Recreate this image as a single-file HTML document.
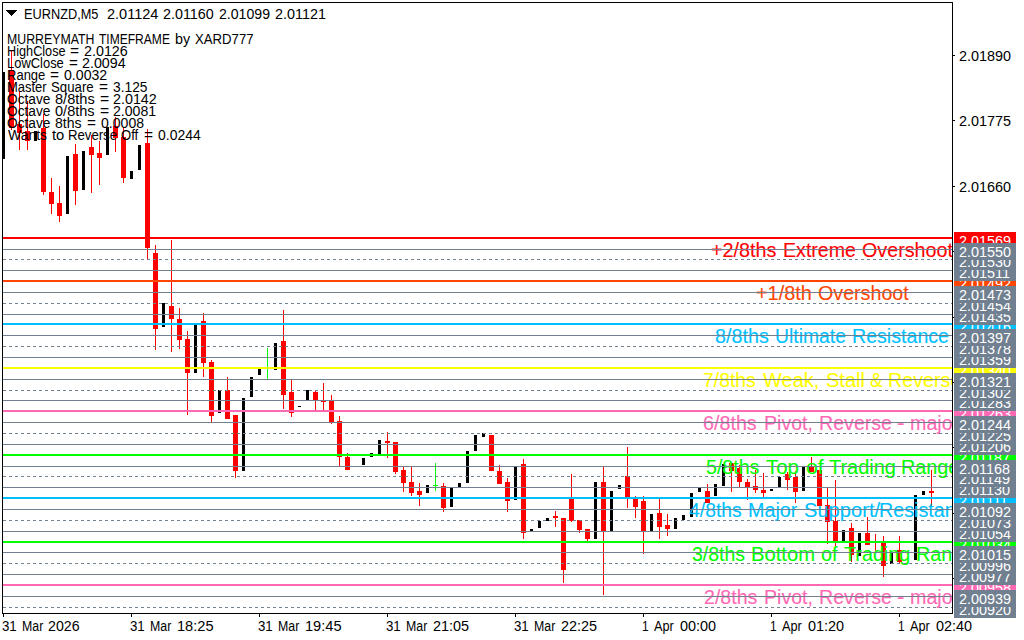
<!DOCTYPE html>
<html><head><meta charset="utf-8"><title>EURNZD,M5</title>
<style>
html,body{margin:0;padding:0;background:#fff;}
body{width:1024px;height:640px;overflow:hidden;position:relative;font-family:"Liberation Sans",sans-serif;color:#000;}
svg{position:absolute;left:0;top:0;}
.lvwrap{position:absolute;left:3px;top:3px;width:949px;height:610px;overflow:hidden;}
.lv{position:absolute;font-size:20px;line-height:23px;white-space:pre;transform-origin:0 0;-webkit-text-stroke:0.12px currentColor;}
.pl{position:absolute;left:954px;width:62px;height:17px;color:#fff;font-size:14px;line-height:17px;white-space:pre;overflow:hidden;}
.pl span{position:absolute;left:4.9px;top:1px;transform:scaleX(1.028);transform-origin:0 0;}
.w{position:absolute;font-size:14px;line-height:17px;white-space:pre;transform-origin:0 0;}
</style></head><body>
<svg width="1024" height="640" viewBox="0 0 1024 640" shape-rendering="crispEdges">
<rect x="2" y="72" width="3" height="87" fill="#000"/>
<rect x="11" y="51" width="1" height="79" fill="#f00"/>
<rect x="9" y="70" width="5" height="58" fill="#f00"/>
<rect x="19" y="92" width="1" height="58" fill="#f00"/>
<rect x="17" y="124" width="5" height="9" fill="#f00"/>
<rect x="27" y="101" width="1" height="49" fill="#f00"/>
<rect x="25" y="131" width="5" height="10" fill="#f00"/>
<rect x="34" y="131" width="3" height="10" fill="#000"/>
<rect x="43" y="114" width="1" height="81" fill="#f00"/>
<rect x="41" y="128" width="5" height="64" fill="#f00"/>
<rect x="51" y="178" width="1" height="36" fill="#f00"/>
<rect x="49" y="192" width="5" height="12" fill="#f00"/>
<rect x="59" y="186" width="1" height="36" fill="#f00"/>
<rect x="57" y="203" width="5" height="13" fill="#f00"/>
<rect x="66" y="156" width="3" height="58" fill="#000"/>
<rect x="75" y="144" width="1" height="61" fill="#f00"/>
<rect x="73" y="154" width="5" height="37" fill="#f00"/>
<rect x="82" y="151" width="3" height="39" fill="#000"/>
<rect x="91" y="135" width="1" height="58" fill="#f00"/>
<rect x="89" y="147" width="5" height="8" fill="#f00"/>
<rect x="99" y="141" width="1" height="44" fill="#f00"/>
<rect x="97" y="153" width="5" height="5" fill="#f00"/>
<rect x="106" y="127" width="3" height="28" fill="#000"/>
<rect x="115" y="117" width="1" height="35" fill="#f00"/>
<rect x="113" y="126" width="5" height="12" fill="#f00"/>
<rect x="123" y="128" width="1" height="55" fill="#f00"/>
<rect x="121" y="137" width="5" height="41" fill="#f00"/>
<rect x="130" y="171" width="3" height="8" fill="#000"/>
<rect x="138" y="145" width="3" height="25" fill="#000"/>
<rect x="147" y="129" width="1" height="130" fill="#f00"/>
<rect x="145" y="143" width="5" height="105" fill="#f00"/>
<rect x="155" y="245" width="1" height="105" fill="#f00"/>
<rect x="153" y="253" width="5" height="76" fill="#f00"/>
<rect x="162" y="303" width="3" height="24" fill="#000"/>
<rect x="171" y="240" width="1" height="112" fill="#f00"/>
<rect x="169" y="306" width="5" height="13" fill="#f00"/>
<rect x="179" y="308" width="1" height="41" fill="#f00"/>
<rect x="177" y="319" width="5" height="21" fill="#f00"/>
<rect x="187" y="331" width="1" height="84" fill="#f00"/>
<rect x="185" y="339" width="5" height="34" fill="#f00"/>
<rect x="194" y="323" width="3" height="50" fill="#000"/>
<rect x="203" y="313" width="1" height="64" fill="#f00"/>
<rect x="201" y="321" width="5" height="42" fill="#f00"/>
<rect x="211" y="360" width="1" height="62" fill="#f00"/>
<rect x="209" y="362" width="5" height="54" fill="#f00"/>
<rect x="218" y="390" width="3" height="23" fill="#000"/>
<rect x="227" y="377" width="1" height="42" fill="#f00"/>
<rect x="225" y="390" width="5" height="29" fill="#f00"/>
<rect x="235" y="415" width="1" height="63" fill="#f00"/>
<rect x="233" y="415" width="5" height="56" fill="#f00"/>
<rect x="242" y="398" width="3" height="73" fill="#000"/>
<rect x="250" y="377" width="3" height="20" fill="#000"/>
<rect x="258" y="369" width="3" height="6" fill="#000"/>
<rect x="267" y="348" width="1" height="31" fill="#0f0"/>
<rect x="274" y="343" width="3" height="27" fill="#000"/>
<rect x="283" y="310" width="1" height="99" fill="#f00"/>
<rect x="281" y="341" width="5" height="54" fill="#f00"/>
<rect x="291" y="380" width="1" height="37" fill="#f00"/>
<rect x="289" y="392" width="5" height="21" fill="#f00"/>
<rect x="298" y="406" width="3" height="1" fill="#000"/>
<rect x="306" y="390" width="3" height="10" fill="#000"/>
<rect x="315" y="390" width="1" height="20" fill="#f00"/>
<rect x="313" y="392" width="5" height="8" fill="#f00"/>
<rect x="323" y="383" width="1" height="27" fill="#f00"/>
<rect x="321" y="401" width="5" height="1" fill="#f00"/>
<rect x="331" y="395" width="1" height="29" fill="#f00"/>
<rect x="329" y="401" width="5" height="21" fill="#f00"/>
<rect x="339" y="416" width="1" height="50" fill="#f00"/>
<rect x="337" y="421" width="5" height="36" fill="#f00"/>
<rect x="347" y="453" width="1" height="17" fill="#f00"/>
<rect x="345" y="457" width="5" height="13" fill="#f00"/>
<rect x="362" y="458" width="3" height="7" fill="#000"/>
<rect x="370" y="453" width="3" height="4" fill="#000"/>
<rect x="378" y="440" width="3" height="14" fill="#000"/>
<rect x="387" y="432" width="1" height="26" fill="#f00"/>
<rect x="385" y="441" width="5" height="2" fill="#f00"/>
<rect x="395" y="442" width="1" height="32" fill="#f00"/>
<rect x="393" y="442" width="5" height="30" fill="#f00"/>
<rect x="403" y="467" width="1" height="25" fill="#f00"/>
<rect x="401" y="470" width="5" height="13" fill="#f00"/>
<rect x="411" y="467" width="1" height="29" fill="#f00"/>
<rect x="409" y="482" width="5" height="11" fill="#f00"/>
<rect x="419" y="483" width="1" height="23" fill="#f00"/>
<rect x="417" y="491" width="5" height="4" fill="#f00"/>
<rect x="426" y="485" width="3" height="8" fill="#000"/>
<rect x="435" y="463" width="1" height="28" fill="#0f0"/>
<rect x="433" y="485" width="5" height="1" fill="#0f0"/>
<rect x="443" y="483" width="1" height="29" fill="#f00"/>
<rect x="441" y="486" width="5" height="22" fill="#f00"/>
<rect x="450" y="488" width="3" height="19" fill="#000"/>
<rect x="458" y="483" width="3" height="4" fill="#000"/>
<rect x="466" y="451" width="3" height="32" fill="#000"/>
<rect x="474" y="435" width="3" height="16" fill="#000"/>
<rect x="482" y="433" width="3" height="4" fill="#000"/>
<rect x="491" y="435" width="1" height="36" fill="#f00"/>
<rect x="489" y="435" width="5" height="36" fill="#f00"/>
<rect x="499" y="465" width="1" height="19" fill="#f00"/>
<rect x="497" y="471" width="5" height="13" fill="#f00"/>
<rect x="507" y="478" width="1" height="34" fill="#f00"/>
<rect x="505" y="482" width="5" height="19" fill="#f00"/>
<rect x="514" y="467" width="3" height="33" fill="#000"/>
<rect x="523" y="459" width="1" height="80" fill="#f00"/>
<rect x="521" y="464" width="5" height="69" fill="#f00"/>
<rect x="530" y="529" width="3" height="2" fill="#000"/>
<rect x="538" y="521" width="3" height="7" fill="#000"/>
<rect x="546" y="518" width="3" height="3" fill="#000"/>
<rect x="555" y="511" width="1" height="16" fill="#f00"/>
<rect x="553" y="516" width="5" height="2" fill="#f00"/>
<rect x="563" y="518" width="1" height="65" fill="#f00"/>
<rect x="561" y="518" width="5" height="52" fill="#f00"/>
<rect x="571" y="474" width="1" height="48" fill="#f00"/>
<rect x="569" y="499" width="5" height="22" fill="#f00"/>
<rect x="579" y="520" width="1" height="13" fill="#f00"/>
<rect x="577" y="520" width="5" height="10" fill="#f00"/>
<rect x="587" y="529" width="1" height="12" fill="#f00"/>
<rect x="585" y="529" width="5" height="10" fill="#f00"/>
<rect x="594" y="482" width="3" height="57" fill="#000"/>
<rect x="603" y="467" width="1" height="128" fill="#f00"/>
<rect x="601" y="482" width="5" height="49" fill="#f00"/>
<rect x="610" y="491" width="3" height="40" fill="#000"/>
<rect x="618" y="485" width="3" height="4" fill="#000"/>
<rect x="627" y="447" width="1" height="61" fill="#f00"/>
<rect x="625" y="476" width="5" height="21" fill="#f00"/>
<rect x="635" y="496" width="1" height="22" fill="#f00"/>
<rect x="633" y="499" width="5" height="8" fill="#f00"/>
<rect x="643" y="496" width="1" height="58" fill="#f00"/>
<rect x="641" y="501" width="5" height="30" fill="#f00"/>
<rect x="650" y="514" width="3" height="17" fill="#000"/>
<rect x="659" y="499" width="1" height="40" fill="#f00"/>
<rect x="657" y="513" width="5" height="14" fill="#f00"/>
<rect x="667" y="514" width="1" height="22" fill="#f00"/>
<rect x="665" y="525" width="5" height="4" fill="#f00"/>
<rect x="674" y="518" width="3" height="11" fill="#000"/>
<rect x="682" y="515" width="3" height="5" fill="#000"/>
<rect x="690" y="493" width="3" height="24" fill="#000"/>
<rect x="698" y="488" width="3" height="4" fill="#000"/>
<rect x="707" y="484" width="1" height="19" fill="#f00"/>
<rect x="705" y="491" width="5" height="12" fill="#f00"/>
<rect x="714" y="484" width="3" height="12" fill="#000"/>
<rect x="722" y="464" width="3" height="22" fill="#000"/>
<rect x="731" y="463" width="1" height="29" fill="#f00"/>
<rect x="729" y="463" width="5" height="8" fill="#f00"/>
<rect x="739" y="465" width="1" height="22" fill="#f00"/>
<rect x="737" y="468" width="5" height="14" fill="#f00"/>
<rect x="747" y="479" width="1" height="21" fill="#f00"/>
<rect x="745" y="482" width="5" height="5" fill="#f00"/>
<rect x="755" y="470" width="1" height="23" fill="#f00"/>
<rect x="753" y="486" width="5" height="4" fill="#f00"/>
<rect x="763" y="473" width="1" height="24" fill="#f00"/>
<rect x="761" y="490" width="5" height="3" fill="#f00"/>
<rect x="770" y="489" width="3" height="2" fill="#000"/>
<rect x="778" y="477" width="3" height="10" fill="#000"/>
<rect x="787" y="472" width="1" height="18" fill="#f00"/>
<rect x="785" y="474" width="5" height="6" fill="#f00"/>
<rect x="795" y="471" width="1" height="32" fill="#f00"/>
<rect x="793" y="477" width="5" height="15" fill="#f00"/>
<rect x="802" y="467" width="3" height="24" fill="#000"/>
<rect x="811" y="457" width="1" height="15" fill="#f00"/>
<rect x="809" y="467" width="5" height="5" fill="#f00"/>
<rect x="819" y="470" width="1" height="36" fill="#f00"/>
<rect x="817" y="470" width="5" height="36" fill="#f00"/>
<rect x="827" y="488" width="1" height="56" fill="#f00"/>
<rect x="825" y="505" width="5" height="17" fill="#f00"/>
<rect x="835" y="480" width="1" height="66" fill="#f00"/>
<rect x="833" y="521" width="5" height="20" fill="#f00"/>
<rect x="842" y="530" width="3" height="11" fill="#000"/>
<rect x="851" y="523" width="1" height="39" fill="#f00"/>
<rect x="849" y="528" width="5" height="27" fill="#f00"/>
<rect x="858" y="533" width="3" height="23" fill="#000"/>
<rect x="867" y="517" width="1" height="28" fill="#f00"/>
<rect x="865" y="533" width="5" height="12" fill="#f00"/>
<rect x="875" y="534" width="1" height="18" fill="#f00"/>
<rect x="883" y="536" width="1" height="41" fill="#f00"/>
<rect x="881" y="543" width="5" height="23" fill="#f00"/>
<rect x="890" y="552" width="3" height="12" fill="#000"/>
<rect x="899" y="536" width="1" height="27" fill="#f00"/>
<rect x="897" y="550" width="5" height="12" fill="#f00"/>
<rect x="914" y="495" width="3" height="65" fill="#000"/>
<rect x="922" y="491" width="3" height="4" fill="#000"/>
<rect x="931" y="470" width="1" height="36" fill="#f00"/>
<rect x="929" y="491" width="5" height="2" fill="#f00"/>
</svg>
<div class="lvwrap">
<span class="lv" style="left:708.21px;top:236.3px;color:#ff0000;transform:scaleX(0.9880)">+2/8ths</span>
<span class="lv" style="left:779.81px;top:236.3px;color:#ff0000;transform:scaleX(0.9806)">Extreme</span>
<span class="lv" style="left:858.91px;top:236.3px;color:#ff0000;transform:scaleX(0.9850)">Overshoot</span>
<span class="lv" style="left:753.31px;top:279.3px;color:#ff4500;transform:scaleX(0.9949)">+1/8th</span>
<span class="lv" style="left:815.02px;top:279.3px;color:#ff4500;transform:scaleX(0.9833)">Overshoot</span>
<span class="lv" style="left:712.24px;top:322.3px;color:#00bfff;transform:scaleX(0.9872)">8/8ths</span>
<span class="lv" style="left:772.15px;top:322.3px;color:#00bfff;transform:scaleX(0.9669)">Ultimate</span>
<span class="lv" style="left:849.21px;top:322.3px;color:#00bfff;transform:scaleX(0.9805)">Resistance</span>
<span class="lv" style="left:700.43px;top:366.3px;color:#ffff00;transform:scaleX(0.9687)">7/8ths</span>
<span class="lv" style="left:760.17px;top:366.3px;color:#ffff00;transform:scaleX(1.0005)">Weak,</span>
<span class="lv" style="left:822.50px;top:366.3px;color:#ffff00;transform:scaleX(1.0020)">Stall</span>
<span class="lv" style="left:866.99px;top:366.3px;color:#ffff00;transform:scaleX(0.9429)">&amp;</span>
<span class="lv" style="left:885.15px;top:366.3px;color:#ffff00;transform:scaleX(0.9850)">Reverse</span>
<span class="lv" style="left:700.41px;top:409.3px;color:#ff69b4;transform:scaleX(0.9858)">6/8ths</span>
<span class="lv" style="left:760.81px;top:409.3px;color:#ff69b4;transform:scaleX(0.9780)">Pivot,</span>
<span class="lv" style="left:815.61px;top:409.3px;color:#ff69b4;transform:scaleX(0.9806)">Reverse</span>
<span class="lv" style="left:894.31px;top:409.3px;color:#ff69b4;transform:scaleX(1.1282)">-</span>
<span class="lv" style="left:907.45px;top:409.3px;color:#ff69b4;transform:scaleX(0.9850)">major</span>
<span class="lv" style="left:703.04px;top:453.3px;color:#00ff00;transform:scaleX(0.9806)">5/8ths</span>
<span class="lv" style="left:762.74px;top:453.3px;color:#00ff00;transform:scaleX(1.0219)">Top</span>
<span class="lv" style="left:802.57px;top:453.3px;color:#00ff00;transform:scaleX(1.0646)">of</span>
<span class="lv" style="left:825.50px;top:453.3px;color:#00ff00;transform:scaleX(0.9977)">Trading</span>
<span class="lv" style="left:897.69px;top:453.3px;color:#00ff00;transform:scaleX(0.9900)">Range</span>
<span class="lv" style="left:685.92px;top:496.3px;color:#00bfff;transform:scaleX(0.9671)">4/8ths</span>
<span class="lv" style="left:744.90px;top:496.3px;color:#00bfff;transform:scaleX(0.9875)">Major</span>
<span class="lv" style="left:801.19px;top:496.3px;color:#00bfff;transform:scaleX(1.0064)">Support/</span>
<span class="lv" style="left:875.90px;top:496.3px;color:#00bfff;transform:scaleX(0.9850)">Resistance</span>
<span class="lv" style="left:689.07px;top:540.3px;color:#00ff00;transform:scaleX(0.9736)">3/8ths</span>
<span class="lv" style="left:748.46px;top:540.3px;color:#00ff00;transform:scaleX(1.0104)">Bottom</span>
<span class="lv" style="left:817.98px;top:540.3px;color:#00ff00;transform:scaleX(0.9921)">of</span>
<span class="lv" style="left:840.91px;top:540.3px;color:#00ff00;transform:scaleX(0.9870)">Trading</span>
<span class="lv" style="left:912.89px;top:540.3px;color:#00ff00;transform:scaleX(0.9900)">Range</span>
<span class="lv" style="left:701.02px;top:583.3px;color:#ff69b4;transform:scaleX(0.9782)">2/8ths</span>
<span class="lv" style="left:760.81px;top:583.3px;color:#ff69b4;transform:scaleX(0.9780)">Pivot,</span>
<span class="lv" style="left:815.61px;top:583.3px;color:#ff69b4;transform:scaleX(0.9806)">Reverse</span>
<span class="lv" style="left:894.31px;top:583.3px;color:#ff69b4;transform:scaleX(1.1282)">-</span>
<span class="lv" style="left:907.45px;top:583.3px;color:#ff69b4;transform:scaleX(0.9850)">major</span>
</div>
<svg width="1024" height="640" viewBox="0 0 1024 640" shape-rendering="crispEdges">
<rect x="3" y="237" width="949" height="2" fill="#ff0000"/>
<rect x="3" y="249" width="949" height="1" fill="#708090"/>
<line x1="3" x2="952" y1="259.5" y2="259.5" stroke="#708090" stroke-width="1" stroke-dasharray="3 3"/>
<rect x="3" y="270" width="949" height="1" fill="#708090"/>
<rect x="3" y="280" width="949" height="2" fill="#ff4500"/>
<rect x="3" y="292" width="949" height="1" fill="#708090"/>
<line x1="3" x2="952" y1="303.5" y2="303.5" stroke="#708090" stroke-width="1" stroke-dasharray="3 3"/>
<rect x="3" y="314" width="949" height="1" fill="#708090"/>
<rect x="3" y="323" width="949" height="2" fill="#00bfff"/>
<rect x="3" y="335" width="949" height="1" fill="#708090"/>
<line x1="3" x2="952" y1="346.5" y2="346.5" stroke="#708090" stroke-width="1" stroke-dasharray="3 3"/>
<rect x="3" y="357" width="949" height="1" fill="#708090"/>
<rect x="3" y="367" width="949" height="2" fill="#ffff00"/>
<rect x="3" y="379" width="949" height="1" fill="#708090"/>
<line x1="3" x2="952" y1="390.5" y2="390.5" stroke="#708090" stroke-width="1" stroke-dasharray="3 3"/>
<rect x="3" y="400" width="949" height="1" fill="#708090"/>
<rect x="3" y="410" width="949" height="2" fill="#ff69b4"/>
<rect x="3" y="422" width="949" height="1" fill="#708090"/>
<line x1="3" x2="952" y1="433.5" y2="433.5" stroke="#708090" stroke-width="1" stroke-dasharray="3 3"/>
<rect x="3" y="444" width="949" height="1" fill="#708090"/>
<rect x="3" y="454" width="949" height="2" fill="#00ff00"/>
<rect x="3" y="466" width="949" height="1" fill="#708090"/>
<line x1="3" x2="952" y1="476.5" y2="476.5" stroke="#708090" stroke-width="1" stroke-dasharray="3 3"/>
<rect x="3" y="487" width="949" height="1" fill="#708090"/>
<rect x="3" y="497" width="949" height="2" fill="#00bfff"/>
<rect x="3" y="509" width="949" height="1" fill="#708090"/>
<line x1="3" x2="952" y1="520.5" y2="520.5" stroke="#708090" stroke-width="1" stroke-dasharray="3 3"/>
<rect x="3" y="531" width="949" height="1" fill="#708090"/>
<rect x="3" y="541" width="949" height="2" fill="#00ff00"/>
<rect x="3" y="552" width="949" height="1" fill="#708090"/>
<line x1="3" x2="952" y1="563.5" y2="563.5" stroke="#708090" stroke-width="1" stroke-dasharray="3 3"/>
<rect x="3" y="574" width="949" height="1" fill="#708090"/>
<rect x="3" y="584" width="949" height="2" fill="#ff69b4"/>
<rect x="3" y="596" width="949" height="1" fill="#708090"/>
<line x1="3" x2="952" y1="607.5" y2="607.5" stroke="#708090" stroke-width="1" stroke-dasharray="3 3"/>
<rect x="2" y="2" width="951" height="1" fill="#000"/><rect x="2" y="2" width="1" height="612" fill="#000"/><rect x="952" y="2" width="1" height="612" fill="#000"/><rect x="2" y="613" width="951" height="1" fill="#000"/>
<rect x="953" y="55" width="2" height="1" fill="#000"/>
<rect x="953" y="120" width="2" height="1" fill="#000"/>
<rect x="953" y="186" width="2" height="1" fill="#000"/>
<rect x="953" y="251" width="2" height="1" fill="#000"/>
<rect x="953" y="317" width="2" height="1" fill="#000"/>
<rect x="953" y="382" width="2" height="1" fill="#000"/>
<rect x="953" y="447" width="2" height="1" fill="#000"/>
<rect x="953" y="513" width="2" height="1" fill="#000"/>
<rect x="953" y="578" width="2" height="1" fill="#000"/>
<rect x="3" y="614" width="1" height="3" fill="#000"/>
<rect x="131" y="614" width="1" height="3" fill="#000"/>
<rect x="259" y="614" width="1" height="3" fill="#000"/>
<rect x="387" y="614" width="1" height="3" fill="#000"/>
<rect x="515" y="614" width="1" height="3" fill="#000"/>
<rect x="643" y="614" width="1" height="3" fill="#000"/>
<rect x="771" y="614" width="1" height="3" fill="#000"/>
<rect x="899" y="614" width="1" height="3" fill="#000"/>
<rect x="6" y="10" width="11" height="1" fill="#000"/><rect x="7" y="11" width="9" height="1" fill="#000"/><rect x="8" y="12" width="7" height="1" fill="#000"/><rect x="9" y="13" width="5" height="1" fill="#000"/><rect x="10" y="14" width="3" height="1" fill="#000"/><rect x="11" y="15" width="1" height="1" fill="#000"/>
</svg>
<span class="w" style="left:24.02px;top:6px;transform:scaleX(0.9119)">EURNZD,M5</span>
<span class="w" style="left:107.02px;top:6px;transform:scaleX(1.0377)">2.01124</span>
<span class="w" style="left:163.13px;top:6px;transform:scaleX(1.0228)">2.01160</span>
<span class="w" style="left:219.24px;top:6px;transform:scaleX(1.0076)">2.01099</span>
<span class="w" style="left:275.33px;top:6px;transform:scaleX(1.0265)">2.01121</span>
<span class="w" style="left:7.06px;top:31px;transform:scaleX(0.8809)">MURREYMATH</span>
<span class="w" style="left:99.48px;top:31px;transform:scaleX(0.8601)">TIMEFRAME</span>
<span class="w" style="left:175.40px;top:31px;transform:scaleX(1.0234)">by</span>
<span class="w" style="left:194.70px;top:31px;transform:scaleX(0.9399)">XARD777</span>
<span class="w" style="left:7.03px;top:43px;transform:scaleX(0.9074)">HighClose</span>
<span class="w" style="left:70.21px;top:43px;transform:scaleX(1.1055)">=</span>
<span class="w" style="left:84.28px;top:43px;transform:scaleX(1.0229)">2.0126</span>
<span class="w" style="left:7.01px;top:55px;transform:scaleX(0.9238)">LowClose</span>
<span class="w" style="left:68.62px;top:55px;transform:scaleX(1.0836)">=</span>
<span class="w" style="left:82.29px;top:55px;transform:scaleX(1.0198)">2.0094</span>
<span class="w" style="left:7.00px;top:67px;transform:scaleX(0.9291)">Range</span>
<span class="w" style="left:50.21px;top:67px;transform:scaleX(1.1055)">=</span>
<span class="w" style="left:64.40px;top:67px;transform:scaleX(1.0090)">0.0032</span>
<span class="w" style="left:7.01px;top:79px;transform:scaleX(0.9269)">Master</span>
<span class="w" style="left:51.21px;top:79px;transform:scaleX(0.9447)">Square</span>
<span class="w" style="left:98.61px;top:79px;transform:scaleX(1.1055)">=</span>
<span class="w" style="left:112.81px;top:79px;transform:scaleX(0.9838)">3.125</span>
<span class="w" style="left:7.19px;top:91px;transform:scaleX(0.9809)">Octave</span>
<span class="w" style="left:55.25px;top:91px;transform:scaleX(1.0432)">8/8ths</span>
<span class="w" style="left:99.60px;top:91px;transform:scaleX(1.1200)">=</span>
<span class="w" style="left:113.03px;top:91px;transform:scaleX(1.0224)">2.0142</span>
<span class="w" style="left:7.19px;top:103px;transform:scaleX(0.9809)">Octave</span>
<span class="w" style="left:55.38px;top:103px;transform:scaleX(1.0397)">0/8ths</span>
<span class="w" style="left:99.60px;top:103px;transform:scaleX(1.1200)">=</span>
<span class="w" style="left:113.04px;top:103px;transform:scaleX(1.0079)">2.0081</span>
<span class="w" style="left:7.19px;top:115px;transform:scaleX(0.9809)">Octave</span>
<span class="w" style="left:55.27px;top:115px;transform:scaleX(1.0049)">8ths</span>
<span class="w" style="left:86.51px;top:115px;transform:scaleX(1.0982)">=</span>
<span class="w" style="left:100.55px;top:115px;transform:scaleX(1.0048)">0.0008</span>
<span class="w" style="left:7.93px;top:127px;transform:scaleX(0.9961)">Wants</span>
<span class="w" style="left:51.54px;top:127px;transform:scaleX(1.0529)">to</span>
<span class="w" style="left:67.99px;top:127px;transform:scaleX(0.9400)">Reverse</span>
<span class="w" style="left:121.32px;top:127px;transform:scaleX(0.9343)">Off</span>
<span class="w" style="left:143.71px;top:127px;transform:scaleX(1.1055)">=</span>
<span class="w" style="left:157.70px;top:127px;transform:scaleX(0.9958)">0.0244</span>
<span class="w" style="left:2.33px;top:618px;transform:scaleX(0.9461)">31</span>
<span class="w" style="left:22.21px;top:618px;transform:scaleX(0.8813)">Mar</span>
<span class="w" style="left:48.04px;top:618px;transform:scaleX(1.0118)">2026</span>
<span class="w" style="left:130.33px;top:618px;transform:scaleX(0.9461)">31</span>
<span class="w" style="left:150.21px;top:618px;transform:scaleX(0.8813)">Mar</span>
<span class="w" style="left:176.53px;top:618px;transform:scaleX(1.0427)">18:25</span>
<span class="w" style="left:258.33px;top:618px;transform:scaleX(0.9461)">31</span>
<span class="w" style="left:278.21px;top:618px;transform:scaleX(0.8813)">Mar</span>
<span class="w" style="left:304.53px;top:618px;transform:scaleX(1.0427)">19:45</span>
<span class="w" style="left:386.33px;top:618px;transform:scaleX(0.9461)">31</span>
<span class="w" style="left:406.21px;top:618px;transform:scaleX(0.8813)">Mar</span>
<span class="w" style="left:432.93px;top:618px;transform:scaleX(1.0311)">21:05</span>
<span class="w" style="left:514.33px;top:618px;transform:scaleX(0.9461)">31</span>
<span class="w" style="left:534.21px;top:618px;transform:scaleX(0.8813)">Mar</span>
<span class="w" style="left:560.93px;top:618px;transform:scaleX(1.0311)">22:25</span>
<span class="w" style="left:642.44px;top:618px;transform:scaleX(0.8500)">1</span>
<span class="w" style="left:654.30px;top:618px;transform:scaleX(0.9116)">Apr</span>
<span class="w" style="left:679.53px;top:618px;transform:scaleX(1.0309)">00:00</span>
<span class="w" style="left:770.44px;top:618px;transform:scaleX(0.8500)">1</span>
<span class="w" style="left:782.30px;top:618px;transform:scaleX(0.9116)">Apr</span>
<span class="w" style="left:807.53px;top:618px;transform:scaleX(1.0309)">01:20</span>
<span class="w" style="left:898.44px;top:618px;transform:scaleX(0.8500)">1</span>
<span class="w" style="left:910.30px;top:618px;transform:scaleX(0.9116)">Apr</span>
<span class="w" style="left:935.53px;top:618px;transform:scaleX(1.0309)">02:40</span>
<span class="w" style="left:958.9px;top:48px;transform:scaleX(1.028)">2.01890</span>
<span class="w" style="left:958.9px;top:113px;transform:scaleX(1.028)">2.01775</span>
<span class="w" style="left:958.9px;top:179px;transform:scaleX(1.028)">2.01660</span>
<div class="pl" style="top:232px;background:#ff0000;z-index:1"><span>2.01569</span></div>
<div class="pl" style="top:275px;background:#ff4500;z-index:1"><span>2.01492</span></div>
<div class="pl" style="top:318px;background:#00bfff;z-index:1"><span>2.01416</span></div>
<div class="pl" style="top:362px;background:#ffff00;z-index:1"><span>2.01340</span></div>
<div class="pl" style="top:405px;background:#ff69b4;z-index:1"><span>2.01263</span></div>
<div class="pl" style="top:449px;background:#00ff00;z-index:1"><span>2.01187</span></div>
<div class="pl" style="top:492px;background:#00bfff;z-index:1"><span>2.01111</span></div>
<div class="pl" style="top:536px;background:#00ff00;z-index:1"><span>2.01034</span></div>
<div class="pl" style="top:579px;background:#ff69b4;z-index:1"><span>2.00958</span></div>
<div class="pl" style="top:601px;background:#708090;z-index:10"><span>2.00920</span></div>
<div class="pl" style="top:590px;background:#708090;z-index:11"><span>2.00939</span></div>
<div class="pl" style="top:568px;background:#708090;z-index:12"><span>2.00977</span></div>
<div class="pl" style="top:557px;background:#708090;z-index:13"><span>2.00996</span></div>
<div class="pl" style="top:546px;background:#708090;z-index:14"><span>2.01015</span></div>
<div class="pl" style="top:525px;background:#708090;z-index:15"><span>2.01054</span></div>
<div class="pl" style="top:514px;background:#708090;z-index:16"><span>2.01073</span></div>
<div class="pl" style="top:503px;background:#708090;z-index:17"><span>2.01092</span></div>
<div class="pl" style="top:481px;background:#708090;z-index:18"><span>2.01130</span></div>
<div class="pl" style="top:470px;background:#708090;z-index:19"><span>2.01149</span></div>
<div class="pl" style="top:460px;background:#708090;z-index:20"><span>2.01168</span></div>
<div class="pl" style="top:438px;background:#708090;z-index:21"><span>2.01206</span></div>
<div class="pl" style="top:427px;background:#708090;z-index:22"><span>2.01225</span></div>
<div class="pl" style="top:416px;background:#708090;z-index:23"><span>2.01244</span></div>
<div class="pl" style="top:394px;background:#708090;z-index:24"><span>2.01283</span></div>
<div class="pl" style="top:384px;background:#708090;z-index:25"><span>2.01302</span></div>
<div class="pl" style="top:373px;background:#708090;z-index:26"><span>2.01321</span></div>
<div class="pl" style="top:351px;background:#708090;z-index:27"><span>2.01359</span></div>
<div class="pl" style="top:340px;background:#708090;z-index:28"><span>2.01378</span></div>
<div class="pl" style="top:329px;background:#708090;z-index:29"><span>2.01397</span></div>
<div class="pl" style="top:308px;background:#708090;z-index:30"><span>2.01435</span></div>
<div class="pl" style="top:297px;background:#708090;z-index:31"><span>2.01454</span></div>
<div class="pl" style="top:286px;background:#708090;z-index:32"><span>2.01473</span></div>
<div class="pl" style="top:264px;background:#708090;z-index:33"><span>2.01511</span></div>
<div class="pl" style="top:253px;background:#708090;z-index:34"><span>2.01530</span></div>
<div class="pl" style="top:243px;background:#708090;z-index:35"><span>2.01550</span></div>
</body></html>
